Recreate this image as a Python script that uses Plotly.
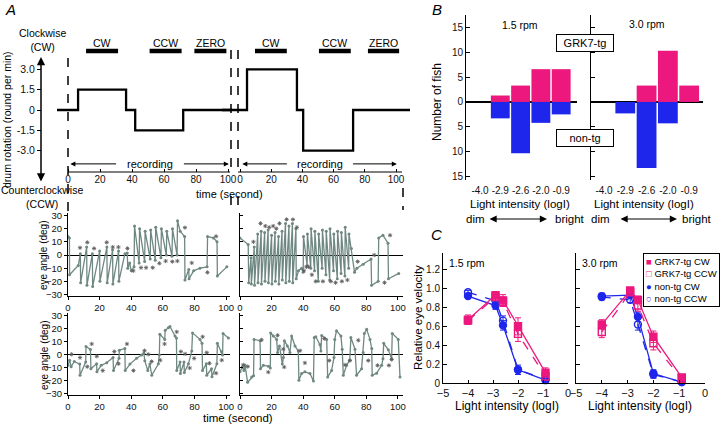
import plotly.graph_objects as go

W, H = 720, 424
def px(x): return x / W
def py(y): return 1 - y / H

FONT = "Liberation Sans, Arial, sans-serif"
PINK = "rgb(236,24,126)"
BLUE = "rgb(30,38,236)"
GRAY = "rgb(112,136,130)"
STAR = "rgb(95,95,95)"

# ---------------- DATA ----------------
# Panel A: drum stimulus (step changes)
stim_left_t = [-7, 6.3, 36.3, 42, 72, 103]
stim_left_v = [0, 1.5, 0, -1.5, 0, 0]
stim_right_t = [-12, 4.5, 36.5, 40.5, 72.5, 110]
stim_right_v = [0, 3.0, 0, -3.0, 0, 0]
epoch_names = ["CW", "CCW", "ZERO"]
epoch_left_start = [11.3, 51, 79]
epoch_left_end = [31.3, 71, 99]
epoch_right_start = [9.6, 50.6, 82]
epoch_right_end = [30, 71, 102]
drum_ticks = [3.0, 1.5, 0, -1.5, -3.0]
drum_ticklabels = ["3.0", "1.5", "0", "-1.5", "-3.0"]
time_ticks = [0, 20, 40, 60, 80, 100]
eye_ticks = [30, 20, 10, 0, -10, -20, -30]

# Eye traces (time s, eye angle deg)
tl_t = [0, 0.9, 1.0, 6.5, 7.8, 8.0, 11.8, 12.0, 15.4, 15.6, 20.0, 20.2, 24.6, 24.8, 28.2, 28.4,
        32.0, 32.2, 36.0, 37.5, 37.8, 39.0, 40.0, 41.8, 42.1, 45.0, 45.3, 48.5, 48.8, 52.0, 52.3,
        55.2, 55.5, 58.8, 59.1, 62.2, 62.5, 65.8, 66.1, 69.0, 69.3, 71.0, 73.8, 74.0, 76.4, 76.6,
        79.5, 83.5, 88.0, 88.3, 92.0, 94.3, 94.5, 100.5]
tl_deg = [14, 13, -15, -8, 1, -21, 6, -23, 1, -24, 3, -20, 6, -21, 4, -22,
          3, -20, 1, 1.5, -10, -6, -12, -9, 22, -6, 20, -5, 18, -3, 19,
          -4, 21, -2, 20, 0, 18, -1, 20, 0, 26, 18, 14, -19, -11, -18,
          -12, -10, -9, 14, 13, 10, -16, -9]
tl_star_t = [7.6, 12.2, 16.5, 24.5, 28.3, 31.9, 37.6, 41.3, 46.2, 49.4, 53.6, 57.8, 61.8, 66.0, 69.2, 74.0, 78.3, 88.2, 93.7]
tl_star_deg = [5.5, 9.6, 5, 9.6, 6, 6, 5, -12, -9.6, -9.6, -9.6, -6.3, -4.6, -5, -4.6, 20.8, -6, -13.2, 14.2]

tr_t = [0, 5.2, 5.5, 7.0, 7.2, 9.0, 9.2, 11.2, 11.4, 13.4, 13.6, 15.6, 15.8, 17.8, 18.0, 20.0, 20.2,
        22.2, 22.4, 24.4, 24.6, 26.6, 26.8, 28.8, 29.0, 31.0, 31.2, 33.2, 33.4, 35.4, 35.6, 37.0,
        39.0, 40.0, 40.2, 42.5, 42.7, 44.8, 45.0, 47.2, 47.4, 49.6, 49.8, 52.0, 52.2, 54.4, 54.6,
        56.8, 57.0, 59.2, 59.4, 61.6, 61.8, 64.0, 64.2, 66.4, 66.6, 68.8, 69.0, 70.5, 72.5, 74.0,
        78.0, 83.0, 83.3, 87.5, 87.8, 90.5, 93.7, 94.0, 100.5]
tr_deg = [13, 8, -21, -2, -22, 6, -23, 16, -21, 18, -22, 17, -20, 19, -21, 15, -22,
          17, -20, 14, -22, 18, -19, 24, -21, 22, -20, 24, -21, 20, -18, -12,
          -10, -13, 14, -8, 16, -10, 20, -12, 18, -20, 16, -10, 19, -15, 18,
          -19, 20, -12, 16, -18, 18, -14, 17, -16, 21, -10, 16, 5, -13, -10,
          -7, -3, -23, -20, 13, 15, 9, -18, -14]
tr_star_t = [8.5, 13, 16, 18.5, 21, 23, 25, 29.5, 33.5, 36, 40.5, 42, 43.5, 45.5, 48, 52.5, 57.5, 60.5, 64.5, 68, 74.5, 85, 91.5, 95]
tr_star_deg = [10, 24, 22, 21, 22, 20, 24, 27, 27, 21, -12, -9, -9, -15, -20, -20, -20, -21, -20, -19, -5, 0, -21, 15]

bl_t = [0, 1, 2, 4, 7.4, 7.6, 11.2, 11.4, 14.2, 14.5, 18.1, 18.3, 21, 24.5, 28.5, 28.8, 32.3, 32.5,
        36, 36.2, 39.2, 43.4, 46.6, 48, 48.6, 50.5, 51.8, 53, 57.2, 57.8, 58.1, 61.2, 61.5, 63.5,
        64.5, 67.7, 68.6, 68.8, 70.9, 71.1, 73.4, 73.6, 76.2, 78.3, 78.8, 83.5, 84.8, 85.1, 87.5,
        87.8, 90.8, 91.1, 94.2, 94.5, 97.2, 97.8, 98.1, 101.5]
bl_deg = [-8, -4, -9, -5, -7, -15.6, -5.5, 6.5, 4.3, -10.6, -6.8, -13, -8, -6, -2, -12, -2.5, 3.7,
          5, -12, -7, -2.5, 0, 1.3, -4.5, -12, -7, -15.6, -6.8, 0, 16, 12, 19, 21,
          22, 14.6, 13, -12, -5.5, -14.3, -5.5, -13.5, -6.8, 3, 17, 12, 9, -12, -6.8,
          -15.6, -10.6, -16.8, -6.8, 9, 2.5, 0, 16.6, 13]
bl_star_t = [2.3, 7.6, 12.2, 15, 18.2, 22, 29.3, 32, 37.3, 41.4, 48.4, 50.8, 52.9, 58.4, 61.1, 68.8, 71.4, 74.1, 77, 79.8, 85.2, 87.8, 89.5, 93.7, 97.3]
bl_star_deg = [0.5, -2, -9, 8.5, -1, -12, 2.6, -6.7, 8.5, -12, 3.3, 0.5, -5, -4, 8.5, 17.8, 2.6, 0.8, -10, -2.6, 14, 1.8, -6.4, -14, -4]

br_t = [0, 1.5, 2.5, 3.2, 4.8, 7.4, 8.6, 8.9, 12.7, 13, 14.8, 18, 19.2, 19.4, 21.1, 23.2, 23.8, 25,
        26.8, 27.5, 28.1, 30, 31.6, 32.7, 34.8, 36.9, 37.3, 39, 41.1, 44.3, 46.5, 47, 48, 50.6,
        51.2, 51.7, 54.9, 55.5, 58, 59.5, 60, 61.1, 63.9, 64.7, 65.4, 67.5, 69.5, 70.2, 72.8,
        73.8, 77, 78, 78.7, 80.2, 82.3, 83.4, 83.7, 86.5, 89.7, 90.5, 91, 93.9, 96, 96.4, 100.2, 101.3]
br_deg = [-13, -9, -12, -8, -21, -17, -16, 12, 11, -10.6, -8, -8.6, -10, 17, 14.6, 12, 2, 7,
          -7, -2, 11, 7, 2, 14.6, 7, 3, -19.5, -14.3, -13, -14.3, -20, 13.4, 14, 8,
          3, 15, 12, -17, -12, -2, 12, 18.7, 14.6, 4.5, -15.6, -8, -4, 13.4, 4.5,
          -15.6, -10.6, 2, 16.6, 19.7, 12, 5, -15.6, -14, -8, -3, 9, 4, -3, 16.6, 12, -17]
br_star_t = [2.1, 4.9, 13.7, 17.9, 23.8, 27.4, 28.0, 38, 41.1, 53.4, 56.5, 66.5, 69.6, 74.9, 81.2, 87.1, 94.3, 96]
br_star_deg = [-7.6, -8.9, 11.6, -13.2, 15.1, 4.5, -9.3, 3.3, -6.1, 12.6, -4.3, -7.6, -4.3, 11.3, -4.3, -8, -8, -3.5]

# Panel B: number of fish per light intensity
light_labels = ["-4.0", "-2.9", "-2.6", "-2.0", "-0.9"]
fish_grk7_15 = [0, 1.3, 3.3, 6.6, 6.6]
fish_non_15 = [0, 3.3, 10.3, 4.2, 2.5]
fish_grk7_30 = [0, 0, 3.3, 10.3, 3.3]
fish_non_30 = [0, 2.3, 13.3, 4.3, 0]
fish_ticks = [15, 10, 5, 0, -5, -10, -15]
fish_ticklabels = ["15", "10", "5", "0", "5", "10", "15"]

# Panel C: relative eye velocity
logI = [-4.0, -2.9, -2.6, -2.0, -0.9]
c15_grk7_cw = [0.67, 0.93, 0.875, 0.60, 0.11]
c15_grk7_cw_err = [0.05, 0.02, 0.06, 0.09, 0.05]
c15_grk7_ccw = [0.66, 0.91, 0.86, 0.52, 0.07]
c15_grk7_ccw_err = [0.04, 0.03, 0.05, 0.08, 0.04]
c15_non_cw = [0.92, 0.82, 0.61, 0.14, 0.03]
c15_non_cw_err = [0.02, 0.04, 0.05, 0.05, 0.02]
c15_non_ccw = [0.96, 0.87, 0.66, 0.14, 0.04]
c15_non_ccw_err = [0.02, 0.03, 0.05, 0.03, 0.02]
c30_grk7_cw = [0.62, 0.98, 0.88, 0.49, 0.06]
c30_grk7_cw_err = [0.05, 0.02, 0.04, 0.06, 0.03]
c30_grk7_ccw = [0.54, 0.96, 0.82, 0.42, 0.04]
c30_grk7_ccw_err = [0.06, 0.02, 0.06, 0.07, 0.03]
c30_non_cw = [0.92, 0.93, 0.70, 0.10, 0.01]
c30_non_cw_err = [0.03, 0.02, 0.05, 0.04, 0.01]
c30_non_ccw = [0.91, 0.88, 0.62, 0.09, 0.01]
c30_non_ccw_err = [0.03, 0.03, 0.06, 0.04, 0.01]
vel_ticks = [0, 0.2, 0.4, 0.6, 0.8, 1.0, 1.2]
vel_ticklabels = ["0", "0.2", "0.4", "0.6", "0.8", "1.0", "1.2"]
logI_ticks = [-5, -4, -3, -2, -1, 0]

# ---------------- FIGURE ----------------
fig = go.Figure()
NOH = dict(showlegend=False, hoverinfo="skip")

# Stimulus traces
fig.add_trace(go.Scatter(x=stim_left_t, y=stim_left_v, mode="lines",
                         line=dict(shape="hv", color="black", width=2.3), xaxis="x", yaxis="y", **NOH))
fig.add_trace(go.Scatter(x=stim_right_t, y=stim_right_v, mode="lines",
                         line=dict(shape="hv", color="black", width=2.3), xaxis="x2", yaxis="y2", **NOH))
EPOCH_Y = 4.36
for s, e, ax_ in [(epoch_left_start, epoch_left_end, ("x", "y")), (epoch_right_start, epoch_right_end, ("x2", "y2"))]:
    for i in range(len(epoch_names)):
        fig.add_trace(go.Scatter(x=[s[i], e[i]], y=[EPOCH_Y, EPOCH_Y], mode="lines",
                                 line=dict(color="black", width=4.5), xaxis=ax_[0], yaxis=ax_[1], **NOH))

# Eye traces
for (tt, dd, st, sd, xa, ya) in [(tl_t, tl_deg, tl_star_t, tl_star_deg, "x3", "y3"),
                                 (tr_t, tr_deg, tr_star_t, tr_star_deg, "x4", "y4"),
                                 (bl_t, bl_deg, bl_star_t, bl_star_deg, "x5", "y5"),
                                 (br_t, br_deg, br_star_t, br_star_deg, "x6", "y6")]:
    fig.add_trace(go.Scatter(x=tt, y=dd, mode="lines+markers", line=dict(color=GRAY, width=1.3),
                             marker=dict(color=GRAY, size=3), xaxis=xa, yaxis=ya, **NOH))
    fig.add_trace(go.Scatter(x=st, y=sd, mode="markers",
                             marker=dict(symbol="asterisk-open", size=3.5, color=STAR,
                                         line=dict(color=STAR, width=0.9)),
                             xaxis=xa, yaxis=ya, **NOH))

# Panel B bars
pos = list(range(len(light_labels)))
for pk, bl, xa, ya in [(fish_grk7_15, fish_non_15, "x7", "y7"), (fish_grk7_30, fish_non_30, "x8", "y8")]:
    fig.add_trace(go.Bar(x=pos, y=pk, width=0.93, marker=dict(color=PINK, line=dict(width=0)),
                         xaxis=xa, yaxis=ya, **NOH))
    fig.add_trace(go.Bar(x=pos, y=[-v for v in bl], width=0.93, marker=dict(color=BLUE, line=dict(width=0)),
                         xaxis=xa, yaxis=ya, **NOH))

# Panel C lines
def cser(y, err, color, symbol, dash, xa, ya):
    fig.add_trace(go.Scatter(x=logI, y=y, mode="lines+markers",
                             line=dict(color=color, width=1.3, dash=dash),
                             marker=dict(color=color, symbol=symbol, size=7, line=dict(color=color, width=1.4)),
                             error_y=dict(type="data", array=err, color=color, thickness=1, width=3),
                             cliponaxis=False, xaxis=xa, yaxis=ya, **NOH))

for suffix, data in [("9", (c15_grk7_cw, c15_grk7_cw_err, c15_grk7_ccw, c15_grk7_ccw_err,
                              c15_non_cw, c15_non_cw_err, c15_non_ccw, c15_non_ccw_err)),
                     ("10", (c30_grk7_cw, c30_grk7_cw_err, c30_grk7_ccw, c30_grk7_ccw_err,
                               c30_non_cw, c30_non_cw_err, c30_non_ccw, c30_non_ccw_err))]:
    xa, ya = "x" + suffix, "y" + suffix
    cser(data[6], data[7], BLUE, "circle-open", "dash", xa, ya)
    cser(data[4], data[5], BLUE, "circle", "solid", xa, ya)
    cser(data[2], data[3], PINK, "square-open", "dash", xa, ya)
    cser(data[0], data[1], PINK, "square", "solid", xa, ya)

# ---------------- LAYOUT ----------------
TF = dict(family=FONT, size=10, color="#111")
ETF = dict(family=FONT, size=9.5, color="#111")
base = dict(showgrid=False, zeroline=False, tickfont=TF, linecolor="black", linewidth=1,
            tickcolor="black", automargin=False)

def ax(**kw):
    d = dict(base)
    d.update(kw)
    return d

STIM_Y = [py(172), py(38)]
STIM_R = [-4.58, 5.32]
layout = dict(
    width=W, height=H, margin=dict(l=0, r=0, t=0, b=0, autoexpand=False),
    paper_bgcolor="white", plot_bgcolor="rgba(0,0,0,0)",
    font=dict(family=FONT, size=10, color="black"),
    barmode="relative", showlegend=False,
    xaxis=ax(domain=[px(57), px(232)], range=[-6.875, 102.5], anchor="y", showline=False,
             ticks="inside", ticklen=3, tickvals=time_ticks),
    yaxis=ax(domain=STIM_Y, range=STIM_R, anchor="free", position=px(41), showline=False,
             ticks="outside", ticklen=4, tickvals=drum_ticks, ticktext=drum_ticklabels,
             tickfont=dict(family=FONT, size=10.5, color="#111")),
    xaxis2=ax(domain=[px(222), px(410)], range=[-11.54, 108.97], anchor="y2", showline=False,
              ticks="inside", ticklen=3, tickvals=time_ticks),
    yaxis2=ax(domain=STIM_Y, range=STIM_R, anchor="x2", visible=False),
)

EYE_TOP = [py(295.5), py(213)]
EYE_BOT = [py(395), py(313)]
RT = [-30.75, 31.9]
RB = [-30.8, 32.3]
eye_y = dict(showline=True, tickvals=eye_ticks, zeroline=True, zerolinecolor="black", zerolinewidth=1,
             tickfont=ETF)
eye_x = dict(showline=True, ticks="outside", ticklen=3, tickvals=time_ticks, tickfont=ETF)
layout["xaxis3"] = ax(domain=[px(68), px(230)], range=[0, 102.5], anchor="y3", **eye_x)
layout["yaxis3"] = ax(domain=EYE_TOP, range=RT, anchor="x3", ticks="outside", ticklen=3, **eye_y)
layout["xaxis4"] = ax(domain=[px(240), px(403)], range=[0, 103.2], anchor="y4", **eye_x)
layout["yaxis4"] = ax(domain=EYE_TOP, range=RT, anchor="x4", ticks="inside", ticklen=3,
                      showticklabels=False, **eye_y)
layout["xaxis5"] = ax(domain=[px(68), px(230)], range=[0, 102.5], anchor="y5", **eye_x)
layout["yaxis5"] = ax(domain=EYE_BOT, range=RB, anchor="x5", ticks="outside", ticklen=3, **eye_y)
layout["xaxis6"] = ax(domain=[px(240), px(403)], range=[0, 103.2], anchor="y6", **eye_x)
layout["yaxis6"] = ax(domain=EYE_BOT, range=RB, anchor="x6", ticks="inside", ticklen=3,
                      showticklabels=False, **eye_y)

# Panel B axes
BY = [py(180), py(15)]
BR = [-15.7, 17.5]
by = dict(showline=True, ticks="inside", ticklen=4, tickvals=fish_ticks, ticktext=fish_ticklabels,
          zeroline=True, zerolinecolor="black", zerolinewidth=2.2)
layout["xaxis7"] = ax(domain=[px(466), px(577)], range=[-0.69, 4.78], anchor="y7", showline=False,
                      ticks="", tickvals=pos, ticktext=light_labels, ticklabelstandoff=3)
layout["yaxis7"] = ax(domain=BY, range=BR, anchor="x7", **by)
layout["xaxis8"] = ax(domain=[px(591), px(703)], range=[-0.61, 4.65], anchor="y8", showline=False,
                      ticks="", tickvals=pos, ticktext=light_labels, ticklabelstandoff=3)
layout["yaxis8"] = ax(domain=BY, range=BR, anchor="x8", showticklabels=False, **by)

# Panel C axes
CY = [py(383), py(253)]
cyd = dict(range=[0, 1.376], showline=True, ticks="inside", ticklen=4, tickvals=vel_ticks, ticktext=vel_ticklabels)
layout["xaxis9"] = ax(domain=[px(443), px(568)], range=[-5, 0], anchor="y9", showline=True,
                      ticks="inside", ticklen=3, tickvals=logI_ticks,
                      tickfont=dict(family=FONT, size=11, color="#111"))
layout["yaxis9"] = ax(domain=CY, anchor="x9", **cyd)
layout["xaxis10"] = ax(domain=[px(576), px(705)], range=[-5, 0], anchor="y10", showline=True,
                       ticks="inside", ticklen=3, tickvals=logI_ticks,
                       tickfont=dict(family=FONT, size=11, color="#111"))
layout["yaxis10"] = ax(domain=CY, anchor="x10", showticklabels=False, **cyd)

fig.update_layout(**layout)

# ---------------- ANNOTATIONS ----------------
ann = []
def txt(x, y, s, size=10.5, xanchor="center", angle=0, italic=False, **kw):
    f = dict(family=FONT, size=size, color="black")
    if italic:
        s = "<i>" + s + "</i>"
    d = dict(x=px(x), y=py(y), xref="paper", yref="paper", text=s, showarrow=False,
             xanchor=xanchor, yanchor="middle", font=f, textangle=angle)
    d.update(kw)
    ann.append(d)

txt(10, 9, "A", size=15, italic=True)
txt(437, 9, "B", size=15, italic=True)
txt(437, 234, "C", size=15, italic=True)

txt(42, 40, "Clockwise<br>(CW)", size=10.5)
txt(42, 197, "Counterclockwise<br>(CCW)", size=10.5)
txt(7, 120, "drum rotation (round per min)", size=10.5, angle=-90)
txt(230, 194, "time (second)", size=11)
txt(238, 418, "time (second)", size=11.5)
txt(44, 255, "eye angle (deg)", size=10, angle=-90)
txt(44, 355, "eye angle (deg)", size=10, angle=-90)

# epoch labels
for s, e, xa, ya in [(epoch_left_start, epoch_left_end, "x", "y"), (epoch_right_start, epoch_right_end, "x2", "y2")]:
    for i, n in enumerate(epoch_names):
        ann.append(dict(x=(s[i] + e[i]) / 2, y=4.98, xref=xa, yref=ya, text=n, showarrow=False,
                        font=dict(family=FONT, size=10.5, color="black"), yanchor="middle"))
    # recording arrows
    ann.append(dict(x=51.5, y=-3.98, xref=xa, yref=ya, text="recording", showarrow=False,
                    font=dict(family=FONT, size=11, color="black")))
    ann.append(dict(x=1.5, y=-3.98, ax=31, ay=-3.98, xref=xa, yref=ya, axref=xa, ayref=ya, text="",
                    showarrow=True, arrowhead=2, arrowsize=1, arrowwidth=1, arrowcolor="black"))
    ann.append(dict(x=100.5, y=-3.98, ax=71.5, ay=-3.98, xref=xa, yref=ya, axref=xa, ayref=ya, text="",
                    showarrow=True, arrowhead=2, arrowsize=1, arrowwidth=1, arrowcolor="black"))

# drum vertical double arrow
ann.append(dict(x=px(41), y=py(57), xref="paper", yref="paper", ax=0, ay=126, text="",
                showarrow=True, arrowhead=2, startarrowhead=2, arrowside="end+start",
                arrowsize=1.1, arrowwidth=1.5, arrowcolor="black"))

# Panel B texts
txt(437, 102, "Number of fish", size=12, angle=-90)
txt(520, 25, "1.5 rpm", size=10.5)
txt(647, 24, "3.0 rpm", size=10.5)
txt(585, 43, "GRK7-tg", size=11, bordercolor="black", borderwidth=1, bgcolor="white", borderpad=2,
    width=52)
txt(585, 138, "non-tg", size=11, bordercolor="black", borderwidth=1, bgcolor="white", borderpad=2,
    width=52)
for cx in (520, 644):
    txt(cx, 204, "Light intensity (logI)", size=11.5)
for dx, bx, a0, a1 in [(475, 570, 488, 547), (600, 697, 619, 677)]:
    txt(dx, 219, "dim", size=11.5)
    txt(bx, 219, "bright", size=11.5)
    ann.append(dict(x=px(a1), y=py(219), xref="paper", yref="paper", ax=-(a1 - a0), ay=0, text="",
                    showarrow=True, arrowhead=2, startarrowhead=2, arrowside="end+start",
                    arrowsize=1.2, arrowwidth=1.2, arrowcolor="black"))

# Panel C texts
txt(418, 318, "Relative eye velocity", size=11.5, angle=-90)
txt(447, 263, "1.5 rpm", size=10.5, xanchor="left")
txt(580, 263, "3.0 rpm", size=10.5, xanchor="left")
txt(507, 406, "Light intensity (logI)", size=12)
txt(640, 406, "Light intensity (logI)", size=12)
legend_text = (f"<span style='color:{PINK}'>■</span> GRK7-tg CW<br>"
               f"<span style='color:{PINK}'>□</span> GRK7-tg CCW<br>"
               f"<span style='color:{BLUE}'>●</span> non-tg CW<br>"
               f"<span style='color:{BLUE}'>○</span> non-tg CCW")
ann.append(dict(x=px(643), y=py(253), xref="paper", yref="paper", text=legend_text, showarrow=False,
                xanchor="left", yanchor="top", align="left", bordercolor="black", borderwidth=1,
                bgcolor="white", borderpad=2, font=dict(family=FONT, size=9.5, color="black")))

fig.update_layout(annotations=ann)

# ---------------- SHAPES (axis lines / guide lines) ----------------
shapes = []
def seg(x0, y0, x1, y1, dash="solid", width=1):
    shapes.append(dict(type="line", xref="paper", yref="paper", x0=px(x0), y0=py(y0), x1=px(x1), y1=py(y1),
                       line=dict(color="black", width=width, dash=dash)))
seg(68, 172, 230, 172)
seg(238, 172, 402, 172)
seg(68, 58, 68, 212, dash="dash", width=1.5)
for xx in (231, 238):
    seg(xx, 50, xx, 171, dash="dash", width=1.5)
    seg(xx, 196, xx, 212, dash="dash", width=1.5)
seg(403, 188, 403, 210, dash="dash", width=1.5)
fig.update_layout(shapes=shapes)

fig.write_html("out.html", config={"displayModeBar": False},
               post_script="document.body.style.margin='0px';document.body.style.padding='0px';")
